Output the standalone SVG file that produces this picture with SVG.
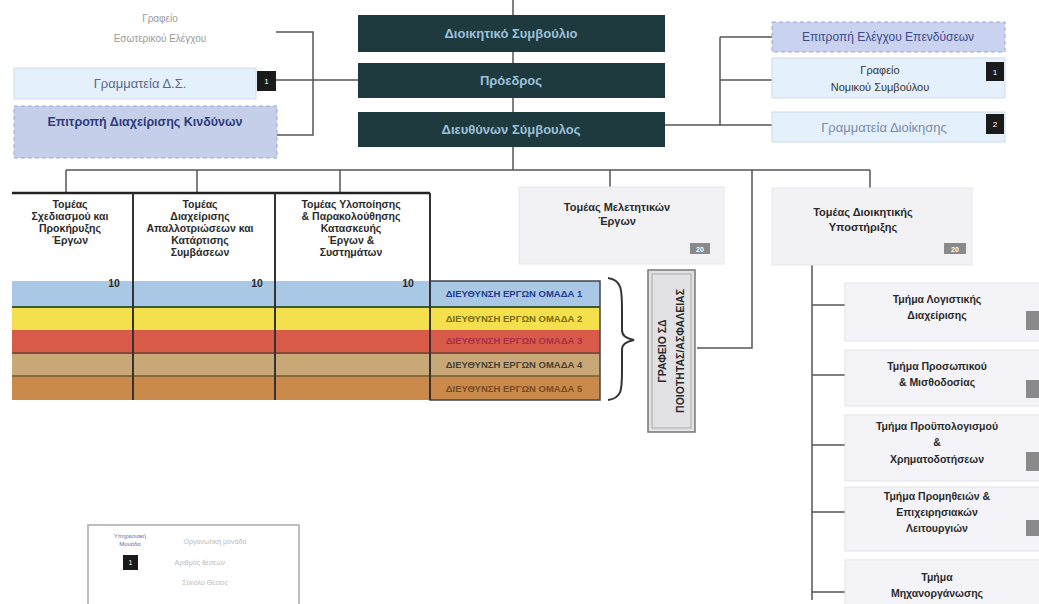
<svg xmlns="http://www.w3.org/2000/svg" width="1039" height="604" viewBox="0 0 1039 604">
<style>
.t{font-family:"Liberation Sans",Arial,sans-serif;text-anchor:middle}
.b{font-weight:bold}
.dark{fill:#1e3a3e}
.dt{fill:#9cc0dc;font-size:13px;font-weight:bold}
.ln{stroke:#555;stroke-width:1.5;fill:none}
.hd{font-size:10.5px;font-weight:bold;fill:#2a2a2a}
.md{font-size:11px;font-weight:bold;fill:#2a2a2a}
.sb{font-size:10.5px;font-weight:bold;fill:#2a2a2a}
.bdg{fill:#1a1a1a}
.gb{fill:#8a8a8a}
.sub{fill:#f4f4f8;stroke:#e4e4ec;stroke-width:1}
.bl{font-size:9.5px;font-weight:bold}
</style>
<rect width="1039" height="604" fill="#ffffff"/>
<g id="connectors">
<path class="ln" d="M513 0V170"/>
<path class="ln" d="M276 32H313V135H277M276 80H358"/>
<path class="ln" d="M665 125H772M720 37V125M720 37H772M720 80H772"/>
<path class="ln" d="M66 170H870M66 170V193M197 170V193M340 170V193M610 170V187M752 170V348H697M870 170V188"/>
<path class="ln" d="M812 265V600M812 305H845M812 375H845M812 445H845M812 512H845M812 592H845"/>
<path d="M608 278C622 280 622 290 622 310V330C622 336 626 338 634 340C626 342 622 344 622 350V370C622 390 622 398 608 400" fill="none" stroke="#333" stroke-width="2"/>
</g>
<g id="n-top-left-text">
<text class="t" x="160" y="22" font-size="10" fill="#999">Γραφείο</text>
<text class="t" x="160" y="42" font-size="10" fill="#999">Εσωτερικού Ελέγχου</text>
</g>
<g id="n-grammateia-ds">
<rect x="14" y="68" width="242" height="31" fill="#e4f0fb" stroke="#d0dcea"/>
<text class="t" x="140" y="88" font-size="13" fill="#5a6a8a">Γραμματεία Δ.Σ.</text>
<rect class="bdg" x="257" y="71" width="19" height="20"/>
<text class="t" x="266.5" y="84" font-size="8" fill="#fff">1</text>
</g>
<g id="n-epitropi-left">
<rect x="14" y="106" width="263" height="52" fill="#c6cfea" stroke="#9aa6d0" stroke-dasharray="4,3"/>
<text class="t b" x="145" y="126" font-size="12.5" fill="#2c3c7c">Επιτροπή Διαχείρισης Κινδύνων</text>
</g>
<g id="n-ds">
<rect class="dark" x="358" y="15" width="307" height="37"/>
<text class="t dt" x="511" y="38">Διοικητικό Συμβούλιο</text>
</g>
<g id="n-proedros">
<rect class="dark" x="358" y="63" width="307" height="35"/>
<text class="t dt" x="511" y="85">Πρόεδρος</text>
</g>
<g id="n-ceo">
<rect class="dark" x="358" y="112" width="307" height="35"/>
<text class="t dt" x="511" y="134">Διευθύνων Σύμβουλος</text>
</g>
<g id="n-epitropi-right">
<rect x="772" y="22" width="233" height="30" fill="#c9d2ee" stroke="#9aa6d0" stroke-dasharray="4,3"/>
<text class="t" x="888" y="41" font-size="12" fill="#3a4a8a">Επιτροπή Ελέγχου Επενδύσεων</text>
</g>
<g id="n-nomikos">
<rect x="772" y="58" width="233" height="40" fill="#e4f0fb" stroke="#d0dcea"/>
<text class="t" x="880" y="74" font-size="11" fill="#333">Γραφείο</text>
<text class="t" x="880" y="91" font-size="11" fill="#333">Νομικού Συμβούλου</text>
<rect class="bdg" x="986" y="62" width="18" height="19"/>
<text class="t" x="995" y="75" font-size="8" fill="#fff">1</text>
</g>
<g id="n-grammateia-dioikisis">
<rect x="772" y="112" width="233" height="30" fill="#e4f0fb" stroke="#d0dcea"/>
<text class="t" x="884" y="132" font-size="13" fill="#7a8aa8">Γραμματεία Διοίκησης</text>
<rect class="bdg" x="986" y="114" width="18" height="20"/>
<text class="t" x="995" y="127" font-size="8" fill="#fff">2</text>
</g>
<g id="n-bands">
<rect x="12" y="281" width="588" height="25" fill="#a9c8e6"/>
<rect x="12" y="306" width="588" height="2" fill="#3d5a3a"/>
<rect x="12" y="308" width="588" height="22" fill="#f4df4c"/>
<rect x="12" y="330" width="588" height="22" fill="#d85a48"/>
<rect x="12" y="352" width="588" height="2" fill="#8a4a3a"/>
<rect x="12" y="354" width="588" height="21" fill="#c9a878"/>
<rect x="12" y="375" width="588" height="2" fill="#8a6a40"/>
<rect x="12" y="377" width="588" height="23" fill="#c98a4c"/>
<rect x="430" y="281" width="170" height="119" fill="none" stroke="#444" stroke-width="1.5"/>
<text class="t bl" x="514" y="297" fill="#1f3c8c">ΔΙΕΥΘΥΝΣΗ ΕΡΓΩΝ ΟΜΑΔΑ 1</text>
<text class="t bl" x="514" y="322" fill="#7a6a10">ΔΙΕΥΘΥΝΣΗ ΕΡΓΩΝ ΟΜΑΔΑ 2</text>
<text class="t bl" x="514" y="344" fill="#a83048">ΔΙΕΥΘΥΝΣΗ ΕΡΓΩΝ ΟΜΑΔΑ 3</text>
<text class="t bl" x="514" y="368" fill="#4a4030">ΔΙΕΥΘΥΝΣΗ ΕΡΓΩΝ ΟΜΑΔΑ 4</text>
<text class="t bl" x="514" y="392" fill="#7a4a20">ΔΙΕΥΘΥΝΣΗ ΕΡΓΩΝ ΟΜΑΔΑ 5</text>
</g>
<g id="n-tomeis-table">
<path d="M12 193H430" stroke="#222" stroke-width="2.5"/>
<path d="M133 193V400M275 193V400M430 193V400" stroke="#333" stroke-width="2"/>
<text class="t hd" x="70" y="208">Τομέας</text>
<text class="t hd" x="70" y="220">Σχεδιασμού και</text>
<text class="t hd" x="70" y="232">Προκήρυξης</text>
<text class="t hd" x="70" y="244">Έργων</text>
<text class="t hd" x="200" y="208">Τομέας</text>
<text class="t hd" x="200" y="220">Διαχείρισης</text>
<text class="t hd" x="200" y="232">Απαλλοτριώσεων και</text>
<text class="t hd" x="200" y="244">Κατάρτισης</text>
<text class="t hd" x="200" y="256">Συμβάσεων</text>
<text class="t hd" x="351" y="208">Τομέας Υλοποίησης</text>
<text class="t hd" x="351" y="220">&amp; Παρακολούθησης</text>
<text class="t hd" x="351" y="232">Κατασκευής</text>
<text class="t hd" x="351" y="244">Έργων &amp;</text>
<text class="t hd" x="351" y="256">Συστημάτων</text>
<text class="t hd" x="114" y="287">10</text>
<text class="t hd" x="257" y="287">10</text>
<text class="t hd" x="408" y="287">10</text>
</g>
<g id="n-meleton">
<rect x="519" y="187" width="205" height="77" fill="#f2f2f5" stroke="#e6e6ec"/>
<text class="t md" x="617" y="211">Τομέας Μελετητικών</text>
<text class="t md" x="617" y="225">Έργων</text>
<rect class="gb" x="690" y="243" width="20" height="11"/>
<text class="t" x="700" y="251.5" font-size="7" fill="#fff" font-weight="bold">20</text>
</g>
<g id="n-poiotitas">
<rect x="648" y="270" width="47" height="162" fill="#e2e2e4" stroke="#777" stroke-width="1.5"/>
<rect x="652" y="274" width="39" height="154" fill="none" stroke="#aaa" stroke-width="1"/>
<text class="t hd" transform="translate(666 351) rotate(-90)">ΓΡΑΦΕΙΟ ΣΔ</text>
<text class="t hd" transform="translate(684 351) rotate(-90)">ΠΟΙΟΤΗΤΑΣ/ΑΣΦΑΛΕΙΑΣ</text>
</g>
<g id="n-dioikitikis">
<rect x="772" y="188" width="200" height="77" fill="#f2f2f5" stroke="#e6e6ec"/>
<text class="t md" x="863" y="216">Τομέας Διοικητικής</text>
<text class="t md" x="863" y="231">Υποστήριξης</text>
<rect class="gb" x="944" y="243" width="22" height="11"/>
<text class="t" x="955" y="251.5" font-size="7" fill="#fff" font-weight="bold">20</text>
</g>
<g id="n-logistikis">
<rect class="sub" x="845" y="283" width="200" height="58"/>
<text class="t sb" x="937" y="303">Τμήμα Λογιστικής</text>
<text class="t sb" x="937" y="319">Διαχείρισης</text>
<rect class="gb" x="1026" y="311" width="14" height="19"/>
</g>
<g id="n-prosopikou">
<rect class="sub" x="845" y="350" width="200" height="56"/>
<text class="t sb" x="937" y="370">Τμήμα Προσωπικού</text>
<text class="t sb" x="937" y="386">&amp; Μισθοδοσίας</text>
<rect class="gb" x="1026" y="380" width="14" height="18"/>
</g>
<g id="n-proypologismou">
<rect class="sub" x="845" y="415" width="200" height="66"/>
<text class="t sb" x="937" y="430">Τμήμα Προϋπολογισμού</text>
<text class="t sb" x="937" y="446">&amp;</text>
<text class="t sb" x="937" y="463">Χρηματοδοτήσεων</text>
<rect class="gb" x="1026" y="452" width="14" height="19"/>
</g>
<g id="n-promitheion">
<rect class="sub" x="845" y="487" width="200" height="64"/>
<text class="t sb" x="937" y="500">Τμήμα Προμηθειών &amp;</text>
<text class="t sb" x="937" y="516">Επιχειρησιακών</text>
<text class="t sb" x="937" y="532">Λειτουργιών</text>
<rect class="gb" x="1026" y="520" width="14" height="16"/>
</g>
<g id="n-michanografisis">
<rect class="sub" x="845" y="560" width="200" height="50"/>
<text class="t sb" x="937" y="581">Τμήμα</text>
<text class="t sb" x="937" y="597">Μηχανοργάνωσης</text>
</g>
<g id="n-legend">
<rect x="88" y="525" width="211" height="82" fill="#fff" stroke="#aaa" stroke-width="1.5"/>
<text class="t" x="130" y="538" font-size="6" fill="#5a6ab8">Υπηρεσιακή</text>
<text class="t" x="130" y="546" font-size="6" fill="#5a6ab8">Μονάδα</text>
<rect class="bdg" x="123" y="555" width="15" height="15"/>
<text class="t" x="130.5" y="565" font-size="7" fill="#fff">1</text>
<text class="t" x="215" y="544" font-size="7" fill="#bbb">Οργανωτική μονάδα</text>
<text class="t" x="200" y="565" font-size="7" fill="#bbb">Αριθμός θέσεων</text>
<text class="t" x="205" y="585" font-size="7" fill="#bbb">Σύνολο    Θέσεις</text>
</g>
</svg>
